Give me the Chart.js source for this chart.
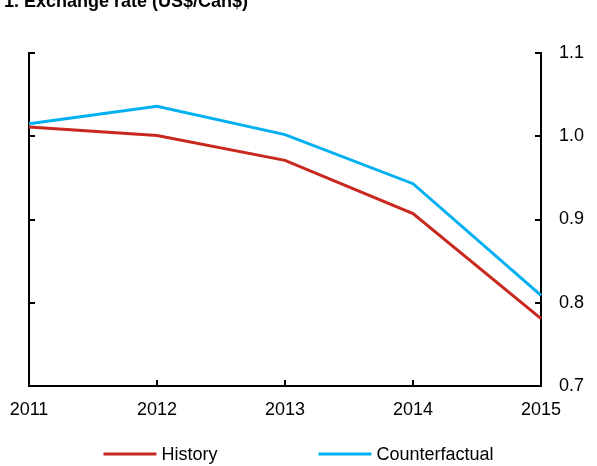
<!DOCTYPE html>
<html>
<head>
<meta charset="utf-8">
<script src="https://cdn.jsdelivr.net/npm/chart.js@4/dist/chart.umd.min.js"></script>
<style>
  html, body { margin: 0; padding: 0; background: #fff; }
  #wrap { position: relative; width: 597px; height: 466px; }
</style>
</head>
<body>
<div id="wrap"><canvas id="chart" width="597" height="466"></canvas></div>
<script>
// data
const years = ['2011', '2012', '2013', '2014', '2015'];
const history = [1.011, 1.001, 0.971, 0.907, 0.781];
const counterfactual = [1.015, 1.036, 1.002, 0.943, 0.809];
const yTicks = [0.7, 0.8, 0.9, 1.0, 1.1];

const FONT = 'Arial, "Liberation Sans", sans-serif';
const RED = '#C8281E';
const CYAN = '#00B0F0';

// title (cut off at the top like the source), inward tick marks and a custom legend
const extras = {
  id: 'extras',
  afterDraw(chart) {
    const ctx = chart.ctx;
    const area = chart.chartArea;
    const y = chart.scales.y;
    const x = chart.scales.x;
    ctx.save();
    ctx.strokeStyle = '#000';
    ctx.lineWidth = 2;
    ctx.beginPath();
    yTicks.forEach(v => {
      const py = Math.round(y.getPixelForValue(v));
      if (v === yTicks[0]) return;
      ctx.moveTo(area.left, py); ctx.lineTo(area.left + 6, py);
      ctx.moveTo(area.right, py); ctx.lineTo(area.right - 6, py);
    });
    years.forEach((yr, i) => {
      if (i === 0 || i === years.length - 1) return;
      const px = Math.round(x.getPixelForValue(i));
      ctx.moveTo(px, area.bottom); ctx.lineTo(px, area.bottom - 6);
    });
    ctx.stroke();

    // title
    ctx.fillStyle = '#000';
    ctx.font = 'bold 18px ' + FONT;
    ctx.textBaseline = 'alphabetic';
    ctx.textAlign = 'left';
    ctx.fillText('1. Exchange rate (US$/Can$)', 4, 7);

    // legend
    ctx.font = '18px ' + FONT;
    ctx.textBaseline = 'middle';
    const lineLen = 53, gapText = 5, gapItem = 101, ly = 454;
    const items = chart.data.datasets.map(ds => ({
      label: ds.label, color: ds.borderColor, w: ctx.measureText(ds.label).width
    }));
    let total = 0;
    items.forEach((it, i) => { total += lineLen + gapText + it.w + (i ? gapItem : 0); });
    let cx = (chart.width - total) / 2;
    items.forEach(it => {
      ctx.strokeStyle = it.color;
      ctx.lineWidth = 3;
      ctx.beginPath();
      ctx.moveTo(cx, ly); ctx.lineTo(cx + lineLen, ly);
      ctx.stroke();
      ctx.fillText(it.label, cx + lineLen + gapText, ly + 1);
      cx += lineLen + gapText + it.w + gapItem;
    });
    ctx.restore();
  }
};

new Chart(document.getElementById('chart'), {
  type: 'line',
  data: {
    labels: years,
    datasets: [
      { label: 'History', data: history, borderColor: RED, backgroundColor: RED,
        borderWidth: 3, pointRadius: 0, tension: 0, yAxisID: 'y' },
      { label: 'Counterfactual', data: counterfactual, borderColor: CYAN, backgroundColor: CYAN,
        borderWidth: 3, pointRadius: 0, tension: 0, yAxisID: 'y' }
    ]
  },
  options: {
    responsive: false,
    animation: false,
    layout: { padding: { top: 53, left: 0, right: 0, bottom: 0 } },
    plugins: { legend: { display: false }, tooltip: { enabled: false } },
    scales: {
      x: {
        offset: false,
        grid: { display: false, drawTicks: false },
        border: { display: true, color: '#000', width: 2 },
        ticks: { color: '#000', font: { size: 18, family: FONT }, padding: 13, maxRotation: 0 },
        afterFit: s => { s.height = 80; s.paddingLeft = 0; s.paddingRight = 0; }
      },
      yl: {
        position: 'left',
        min: 0.7, max: 1.1,
        grid: { display: false, drawTicks: false },
        border: { display: true, color: '#000', width: 2 },
        ticks: { display: false },
        afterFit: s => { s.width = 29; }
      },
      y: {
        position: 'right',
        min: 0.7, max: 1.1,
        grid: { display: false, drawTicks: false },
        border: { display: true, color: '#000', width: 2 },
        afterBuildTicks: s => { s.ticks = yTicks.map(v => ({ value: v })); },
        ticks: {
          color: '#000', font: { size: 18, family: FONT }, padding: 18,
          callback: v => Number(v).toFixed(1)
        },
        afterFit: s => { s.width = 56; }
      }
    }
  },
  plugins: [extras]
});
</script>
</body>
</html>
